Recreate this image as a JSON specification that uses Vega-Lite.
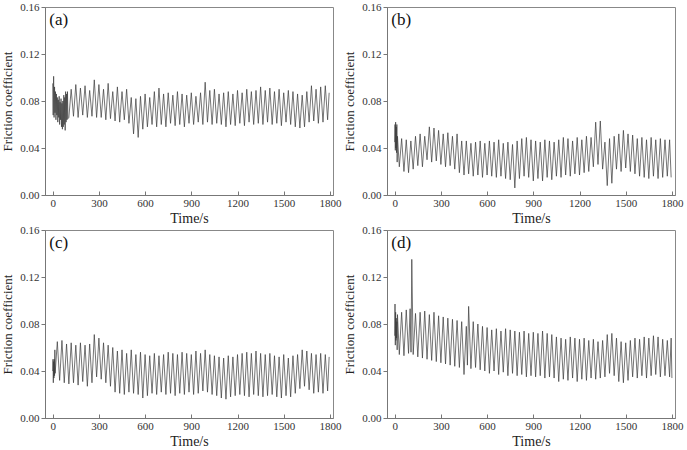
{
"$schema": "https://vega.github.io/schema/vega-lite/v6.json",
"background": "white",
"padding": {"left": 1, "top": 0, "right": 2, "bottom": 0},
"config": {
  "font": "Liberation Serif",
  "view": {"stroke": "#888", "strokeWidth": 1},
  "style": {"guide-label": {"font": "Liberation Serif", "fontWeight": 400}, "guide-title": {"font": "Liberation Serif", "fontWeight": 400}}
},
"datasets": {
"a": [
{"t":0,"f":0.095},{"t":3,"f":0.068},{"t":6,"f":0.101},{"t":9,"f":0.066},{"t":12,"f":0.092},{"t":15,"f":0.07},{"t":18,"f":0.088},{"t":21,"f":0.064},{"t":24,"f":0.086},{"t":27,"f":0.068},{"t":30,"f":0.083},{"t":33,"f":0.062},{"t":36,"f":0.081},{"t":39,"f":0.066},{"t":42,"f":0.084},{"t":45,"f":0.06},{"t":48,"f":0.079},{"t":51,"f":0.064},{"t":54,"f":0.082},{"t":57,"f":0.058},{"t":60,"f":0.078},{"t":63,"f":0.056},{"t":66,"f":0.08},{"t":69,"f":0.058},{"t":72,"f":0.085},{"t":75,"f":0.06},{"t":78,"f":0.083},{"t":81,"f":0.055},{"t":84,"f":0.088},{"t":87,"f":0.062},{"t":90,"f":0.086},{"t":93,"f":0.064},{"t":96,"f":0.088},{"t":99,"f":0.065},
{"t":105,"f":0.066},{"t":120,"f":0.09},{"t":135,"f":0.067},{"t":150,"f":0.094},{"t":165,"f":0.066},{"t":180,"f":0.091},{"t":195,"f":0.068},{"t":210,"f":0.093},{"t":225,"f":0.066},{"t":240,"f":0.089},{"t":255,"f":0.067},{"t":270,"f":0.098},{"t":285,"f":0.066},{"t":300,"f":0.094},{"t":315,"f":0.066},{"t":330,"f":0.09},{"t":345,"f":0.064},{"t":360,"f":0.095},{"t":375,"f":0.065},{"t":390,"f":0.088},{"t":405,"f":0.063},{"t":420,"f":0.092},{"t":435,"f":0.062},{"t":450,"f":0.088},{"t":465,"f":0.064},{"t":480,"f":0.09},{"t":495,"f":0.061},{"t":510,"f":0.083},{"t":525,"f":0.052},{"t":540,"f":0.082},{"t":555,"f":0.049},{"t":570,"f":0.084},{"t":585,"f":0.056},{"t":600,"f":0.086},{"t":615,"f":0.058},{"t":630,"f":0.083},{"t":645,"f":0.06},{"t":660,"f":0.088},{"t":675,"f":0.058},{"t":690,"f":0.091},{"t":705,"f":0.06},{"t":720,"f":0.086},{"t":735,"f":0.058},{"t":750,"f":0.087},{"t":765,"f":0.061},{"t":780,"f":0.085},{"t":795,"f":0.059},{"t":810,"f":0.088},{"t":825,"f":0.06},{"t":840,"f":0.086},{"t":855,"f":0.058},{"t":870,"f":0.085},{"t":885,"f":0.061},{"t":900,"f":0.087},{"t":915,"f":0.06},{"t":930,"f":0.084},{"t":945,"f":0.062},{"t":960,"f":0.087},{"t":975,"f":0.06},{"t":990,"f":0.096},{"t":1005,"f":0.062},{"t":1020,"f":0.089},{"t":1035,"f":0.06},{"t":1050,"f":0.09},{"t":1065,"f":0.061},{"t":1080,"f":0.086},{"t":1095,"f":0.06},{"t":1110,"f":0.087},{"t":1125,"f":0.058},{"t":1140,"f":0.088},{"t":1155,"f":0.06},{"t":1170,"f":0.086},{"t":1185,"f":0.059},{"t":1200,"f":0.089},{"t":1215,"f":0.061},{"t":1230,"f":0.087},{"t":1245,"f":0.059},{"t":1260,"f":0.09},{"t":1275,"f":0.062},{"t":1290,"f":0.088},{"t":1305,"f":0.06},{"t":1320,"f":0.089},{"t":1335,"f":0.061},{"t":1350,"f":0.092},{"t":1365,"f":0.06},{"t":1380,"f":0.089},{"t":1395,"f":0.062},{"t":1410,"f":0.091},{"t":1425,"f":0.06},{"t":1440,"f":0.088},{"t":1455,"f":0.061},{"t":1470,"f":0.09},{"t":1485,"f":0.059},{"t":1500,"f":0.087},{"t":1515,"f":0.062},{"t":1530,"f":0.089},{"t":1545,"f":0.06},{"t":1560,"f":0.088},{"t":1575,"f":0.058},{"t":1590,"f":0.086},{"t":1605,"f":0.057},{"t":1620,"f":0.085},{"t":1635,"f":0.058},{"t":1650,"f":0.088},{"t":1665,"f":0.062},{"t":1680,"f":0.093},{"t":1695,"f":0.063},{"t":1710,"f":0.09},{"t":1725,"f":0.061},{"t":1740,"f":0.092},{"t":1755,"f":0.062},{"t":1770,"f":0.093},{"t":1785,"f":0.064},{"t":1795,"f":0.087}
],
"b": [
{"t":0,"f":0.045},{"t":2,"f":0.06},{"t":4,"f":0.038},{"t":6,"f":0.062},{"t":8,"f":0.04},{"t":10,"f":0.058},{"t":12,"f":0.036},{"t":14,"f":0.06},{"t":16,"f":0.028},{"t":18,"f":0.05},
{"t":30,"f":0.024},{"t":45,"f":0.048},{"t":60,"f":0.02},{"t":75,"f":0.047},{"t":90,"f":0.019},{"t":105,"f":0.046},{"t":120,"f":0.022},{"t":135,"f":0.05},{"t":150,"f":0.025},{"t":165,"f":0.052},{"t":180,"f":0.024},{"t":195,"f":0.05},{"t":210,"f":0.03},{"t":225,"f":0.058},{"t":240,"f":0.028},{"t":255,"f":0.057},{"t":270,"f":0.029},{"t":285,"f":0.055},{"t":300,"f":0.026},{"t":315,"f":0.052},{"t":330,"f":0.024},{"t":345,"f":0.053},{"t":360,"f":0.025},{"t":375,"f":0.05},{"t":390,"f":0.022},{"t":405,"f":0.052},{"t":420,"f":0.019},{"t":435,"f":0.046},{"t":450,"f":0.017},{"t":465,"f":0.046},{"t":480,"f":0.018},{"t":495,"f":0.044},{"t":510,"f":0.016},{"t":525,"f":0.045},{"t":540,"f":0.017},{"t":555,"f":0.046},{"t":570,"f":0.015},{"t":585,"f":0.044},{"t":600,"f":0.017},{"t":615,"f":0.046},{"t":630,"f":0.016},{"t":645,"f":0.045},{"t":660,"f":0.015},{"t":675,"f":0.047},{"t":690,"f":0.016},{"t":705,"f":0.044},{"t":720,"f":0.014},{"t":735,"f":0.045},{"t":750,"f":0.013},{"t":765,"f":0.043},{"t":780,"f":0.006},{"t":795,"f":0.046},{"t":810,"f":0.014},{"t":825,"f":0.048},{"t":840,"f":0.016},{"t":855,"f":0.049},{"t":870,"f":0.015},{"t":885,"f":0.047},{"t":900,"f":0.012},{"t":915,"f":0.046},{"t":930,"f":0.014},{"t":945,"f":0.045},{"t":960,"f":0.012},{"t":975,"f":0.047},{"t":990,"f":0.015},{"t":1005,"f":0.046},{"t":1020,"f":0.013},{"t":1035,"f":0.045},{"t":1050,"f":0.016},{"t":1065,"f":0.047},{"t":1080,"f":0.015},{"t":1095,"f":0.049},{"t":1110,"f":0.017},{"t":1125,"f":0.048},{"t":1140,"f":0.016},{"t":1155,"f":0.046},{"t":1170,"f":0.018},{"t":1185,"f":0.049},{"t":1200,"f":0.017},{"t":1215,"f":0.047},{"t":1230,"f":0.019},{"t":1245,"f":0.05},{"t":1260,"f":0.02},{"t":1275,"f":0.049},{"t":1290,"f":0.024},{"t":1305,"f":0.062},{"t":1320,"f":0.026},{"t":1335,"f":0.063},{"t":1350,"f":0.022},{"t":1365,"f":0.045},{"t":1380,"f":0.008},{"t":1395,"f":0.048},{"t":1410,"f":0.01},{"t":1425,"f":0.05},{"t":1440,"f":0.022},{"t":1455,"f":0.052},{"t":1470,"f":0.02},{"t":1485,"f":0.055},{"t":1500,"f":0.023},{"t":1515,"f":0.052},{"t":1530,"f":0.02},{"t":1545,"f":0.051},{"t":1560,"f":0.018},{"t":1575,"f":0.048},{"t":1590,"f":0.016},{"t":1605,"f":0.049},{"t":1620,"f":0.015},{"t":1635,"f":0.047},{"t":1650,"f":0.014},{"t":1665,"f":0.049},{"t":1680,"f":0.016},{"t":1695,"f":0.047},{"t":1710,"f":0.014},{"t":1725,"f":0.048},{"t":1740,"f":0.015},{"t":1755,"f":0.047},{"t":1770,"f":0.016},{"t":1785,"f":0.047},{"t":1795,"f":0.015}
],
"c": [
{"t":0,"f":0.04},{"t":2,"f":0.05},{"t":4,"f":0.03},{"t":6,"f":0.048},{"t":8,"f":0.034},{"t":10,"f":0.05},{"t":12,"f":0.036},{"t":14,"f":0.058},{"t":16,"f":0.038},
{"t":30,"f":0.065},{"t":45,"f":0.032},{"t":60,"f":0.066},{"t":75,"f":0.03},{"t":90,"f":0.063},{"t":105,"f":0.029},{"t":120,"f":0.064},{"t":135,"f":0.03},{"t":150,"f":0.062},{"t":165,"f":0.028},{"t":180,"f":0.064},{"t":195,"f":0.031},{"t":210,"f":0.062},{"t":225,"f":0.027},{"t":240,"f":0.063},{"t":255,"f":0.03},{"t":270,"f":0.071},{"t":285,"f":0.035},{"t":300,"f":0.068},{"t":315,"f":0.033},{"t":330,"f":0.064},{"t":345,"f":0.03},{"t":360,"f":0.062},{"t":375,"f":0.027},{"t":390,"f":0.06},{"t":405,"f":0.022},{"t":420,"f":0.057},{"t":435,"f":0.021},{"t":450,"f":0.058},{"t":465,"f":0.02},{"t":480,"f":0.055},{"t":495,"f":0.022},{"t":510,"f":0.058},{"t":525,"f":0.021},{"t":540,"f":0.054},{"t":555,"f":0.02},{"t":570,"f":0.056},{"t":585,"f":0.017},{"t":600,"f":0.054},{"t":615,"f":0.019},{"t":630,"f":0.053},{"t":645,"f":0.021},{"t":660,"f":0.055},{"t":675,"f":0.02},{"t":690,"f":0.053},{"t":705,"f":0.022},{"t":720,"f":0.054},{"t":735,"f":0.02},{"t":750,"f":0.056},{"t":765,"f":0.021},{"t":780,"f":0.055},{"t":795,"f":0.019},{"t":810,"f":0.054},{"t":825,"f":0.021},{"t":840,"f":0.056},{"t":855,"f":0.02},{"t":870,"f":0.055},{"t":885,"f":0.022},{"t":900,"f":0.054},{"t":915,"f":0.02},{"t":930,"f":0.057},{"t":945,"f":0.021},{"t":960,"f":0.055},{"t":975,"f":0.023},{"t":990,"f":0.058},{"t":1005,"f":0.022},{"t":1020,"f":0.054},{"t":1035,"f":0.02},{"t":1050,"f":0.053},{"t":1065,"f":0.019},{"t":1080,"f":0.052},{"t":1095,"f":0.017},{"t":1110,"f":0.051},{"t":1125,"f":0.016},{"t":1140,"f":0.053},{"t":1155,"f":0.018},{"t":1170,"f":0.052},{"t":1185,"f":0.019},{"t":1200,"f":0.054},{"t":1215,"f":0.02},{"t":1230,"f":0.055},{"t":1245,"f":0.019},{"t":1260,"f":0.056},{"t":1275,"f":0.018},{"t":1290,"f":0.055},{"t":1305,"f":0.02},{"t":1320,"f":0.057},{"t":1335,"f":0.019},{"t":1350,"f":0.055},{"t":1365,"f":0.018},{"t":1380,"f":0.054},{"t":1395,"f":0.019},{"t":1410,"f":0.055},{"t":1425,"f":0.02},{"t":1440,"f":0.053},{"t":1455,"f":0.018},{"t":1470,"f":0.052},{"t":1485,"f":0.017},{"t":1500,"f":0.054},{"t":1515,"f":0.019},{"t":1530,"f":0.051},{"t":1545,"f":0.018},{"t":1560,"f":0.053},{"t":1575,"f":0.021},{"t":1590,"f":0.054},{"t":1605,"f":0.025},{"t":1620,"f":0.058},{"t":1635,"f":0.027},{"t":1650,"f":0.057},{"t":1665,"f":0.024},{"t":1680,"f":0.055},{"t":1695,"f":0.021},{"t":1710,"f":0.054},{"t":1725,"f":0.022},{"t":1740,"f":0.055},{"t":1755,"f":0.021},{"t":1770,"f":0.054},{"t":1785,"f":0.023},{"t":1795,"f":0.052}
],
"d": [
{"t":0,"f":0.07},{"t":2,"f":0.097},{"t":4,"f":0.062},{"t":6,"f":0.09},{"t":8,"f":0.066},{"t":10,"f":0.085},{"t":12,"f":0.068},{"t":14,"f":0.082},{"t":16,"f":0.058},{"t":18,"f":0.088},
{"t":30,"f":0.054},{"t":45,"f":0.09},{"t":60,"f":0.053},{"t":75,"f":0.092},{"t":90,"f":0.055},{"t":100,"f":0.093},{"t":106,"f":0.056},{"t":111,"f":0.135},{"t":120,"f":0.054},{"t":135,"f":0.089},{"t":150,"f":0.052},{"t":165,"f":0.09},{"t":180,"f":0.051},{"t":195,"f":0.091},{"t":210,"f":0.05},{"t":225,"f":0.088},{"t":240,"f":0.049},{"t":255,"f":0.09},{"t":270,"f":0.048},{"t":285,"f":0.087},{"t":300,"f":0.047},{"t":315,"f":0.086},{"t":330,"f":0.046},{"t":345,"f":0.085},{"t":360,"f":0.045},{"t":375,"f":0.084},{"t":390,"f":0.044},{"t":405,"f":0.083},{"t":420,"f":0.043},{"t":435,"f":0.082},{"t":450,"f":0.037},{"t":465,"f":0.078},{"t":472,"f":0.045},{"t":480,"f":0.095},{"t":495,"f":0.042},{"t":510,"f":0.082},{"t":525,"f":0.043},{"t":540,"f":0.08},{"t":555,"f":0.041},{"t":570,"f":0.078},{"t":585,"f":0.04},{"t":600,"f":0.077},{"t":615,"f":0.038},{"t":630,"f":0.075},{"t":645,"f":0.04},{"t":660,"f":0.076},{"t":675,"f":0.037},{"t":690,"f":0.074},{"t":705,"f":0.039},{"t":720,"f":0.076},{"t":735,"f":0.036},{"t":750,"f":0.075},{"t":765,"f":0.038},{"t":780,"f":0.074},{"t":795,"f":0.036},{"t":810,"f":0.073},{"t":825,"f":0.037},{"t":840,"f":0.074},{"t":855,"f":0.035},{"t":870,"f":0.072},{"t":885,"f":0.036},{"t":900,"f":0.073},{"t":915,"f":0.035},{"t":930,"f":0.072},{"t":945,"f":0.036},{"t":960,"f":0.074},{"t":975,"f":0.034},{"t":990,"f":0.072},{"t":1005,"f":0.035},{"t":1020,"f":0.071},{"t":1035,"f":0.034},{"t":1050,"f":0.069},{"t":1065,"f":0.031},{"t":1080,"f":0.068},{"t":1095,"f":0.033},{"t":1110,"f":0.067},{"t":1125,"f":0.032},{"t":1140,"f":0.069},{"t":1155,"f":0.034},{"t":1170,"f":0.068},{"t":1185,"f":0.031},{"t":1200,"f":0.067},{"t":1215,"f":0.033},{"t":1230,"f":0.068},{"t":1245,"f":0.032},{"t":1260,"f":0.066},{"t":1275,"f":0.034},{"t":1290,"f":0.067},{"t":1305,"f":0.033},{"t":1320,"f":0.065},{"t":1335,"f":0.034},{"t":1350,"f":0.066},{"t":1365,"f":0.035},{"t":1380,"f":0.071},{"t":1395,"f":0.038},{"t":1410,"f":0.072},{"t":1425,"f":0.036},{"t":1440,"f":0.068},{"t":1455,"f":0.031},{"t":1470,"f":0.065},{"t":1485,"f":0.03},{"t":1500,"f":0.064},{"t":1515,"f":0.032},{"t":1530,"f":0.066},{"t":1545,"f":0.035},{"t":1560,"f":0.068},{"t":1575,"f":0.034},{"t":1590,"f":0.067},{"t":1605,"f":0.036},{"t":1620,"f":0.069},{"t":1635,"f":0.034},{"t":1650,"f":0.068},{"t":1665,"f":0.036},{"t":1680,"f":0.07},{"t":1695,"f":0.037},{"t":1710,"f":0.069},{"t":1725,"f":0.035},{"t":1740,"f":0.067},{"t":1755,"f":0.036},{"t":1770,"f":0.066},{"t":1785,"f":0.035},{"t":1795,"f":0.068},{"t":1800,"f":0.034}
]
},
"vconcat": [
  {"hconcat": [
    {"width": 288, "height": 188, "layer": [
      {"data": {"name": "a"}, "mark": {"type": "line", "stroke": "#3a3a3a", "strokeWidth": 0.7}, "encoding": {
        "x": {"field": "t", "type": "quantitative", "scale": {"domain": [-50, 1820], "nice": false}, "axis": {"title": "Time/s", "grid": false, "labelFont": "Liberation Serif", "labelFontSize": 11, "labelColor": "#333", "titleFont": "Liberation Serif", "titleFontSize": 14, "titleFontWeight": 400, "titleColor": "#222", "domainColor": "#777", "tickColor": "#777", "labelOverlap": false, "values": [0,150,300,450,600,750,900,1050,1200,1350,1500,1650,1800], "labelExpr": "datum.value % 300 == 0 ? datum.value : ''", "tickSize": -4, "labelPadding": 6, "titlePadding": 3, "labelFlush": false}},
        "y": {"field": "f", "type": "quantitative", "scale": {"domain": [0, 0.16], "nice": false}, "axis": {"title": "Friction coefficient", "grid": false, "labelFont": "Liberation Serif", "labelFontSize": 11, "labelColor": "#333", "titleFont": "Liberation Serif", "titleFontSize": 13, "titleFontWeight": 400, "titleColor": "#222", "domainColor": "#777", "tickColor": "#777", "labelOverlap": false, "values": [0,0.02,0.04,0.06,0.08,0.1,0.12,0.14,0.16], "labelExpr": "round(datum.value*100) % 4 == 0 ? format(datum.value, '.2f') : ''", "tickSize": 4, "labelPadding": 2, "titlePadding": 5, "labelFlush": false}}}},
      {"data": {"values": [{"lab": "(a)"}]}, "mark": {"type": "text", "align": "left", "baseline": "alphabetic", "fontSize": 17, "font": "Liberation Serif", "color": "#111"}, "encoding": {"x": {"datum": -22}, "y": {"datum": 0.1445}, "text": {"field": "lab"}}}
    ]},
    {"width": 288, "height": 188, "layer": [
      {"data": {"name": "b"}, "mark": {"type": "line", "stroke": "#3a3a3a", "strokeWidth": 0.7}, "encoding": {
        "x": {"field": "t", "type": "quantitative", "scale": {"domain": [-50, 1820], "nice": false}, "axis": {"title": "Time/s", "grid": false, "labelFont": "Liberation Serif", "labelFontSize": 11, "labelColor": "#333", "titleFont": "Liberation Serif", "titleFontSize": 14, "titleFontWeight": 400, "titleColor": "#222", "domainColor": "#777", "tickColor": "#777", "labelOverlap": false, "values": [0,150,300,450,600,750,900,1050,1200,1350,1500,1650,1800], "labelExpr": "datum.value % 300 == 0 ? datum.value : ''", "tickSize": -4, "labelPadding": 6, "titlePadding": 3, "labelFlush": false}},
        "y": {"field": "f", "type": "quantitative", "scale": {"domain": [0, 0.16], "nice": false}, "axis": {"title": "Friction coefficient", "grid": false, "labelFont": "Liberation Serif", "labelFontSize": 11, "labelColor": "#333", "titleFont": "Liberation Serif", "titleFontSize": 13, "titleFontWeight": 400, "titleColor": "#222", "domainColor": "#777", "tickColor": "#777", "labelOverlap": false, "values": [0,0.02,0.04,0.06,0.08,0.1,0.12,0.14,0.16], "labelExpr": "round(datum.value*100) % 4 == 0 ? format(datum.value, '.2f') : ''", "tickSize": 4, "labelPadding": 2, "titlePadding": 5, "labelFlush": false}}}},
      {"data": {"values": [{"lab": "(b)"}]}, "mark": {"type": "text", "align": "left", "baseline": "alphabetic", "fontSize": 17, "font": "Liberation Serif", "color": "#111"}, "encoding": {"x": {"datum": -22}, "y": {"datum": 0.1445}, "text": {"field": "lab"}}}
    ]}
  ], "spacing": 1},
  {"hconcat": [
    {"width": 288, "height": 188, "layer": [
      {"data": {"name": "c"}, "mark": {"type": "line", "stroke": "#3a3a3a", "strokeWidth": 0.7}, "encoding": {
        "x": {"field": "t", "type": "quantitative", "scale": {"domain": [-50, 1820], "nice": false}, "axis": {"title": "Time/s", "grid": false, "labelFont": "Liberation Serif", "labelFontSize": 11, "labelColor": "#333", "titleFont": "Liberation Serif", "titleFontSize": 14, "titleFontWeight": 400, "titleColor": "#222", "domainColor": "#777", "tickColor": "#777", "labelOverlap": false, "values": [0,150,300,450,600,750,900,1050,1200,1350,1500,1650,1800], "labelExpr": "datum.value % 300 == 0 ? datum.value : ''", "tickSize": -4, "labelPadding": 6, "titlePadding": 3, "labelFlush": false}},
        "y": {"field": "f", "type": "quantitative", "scale": {"domain": [0, 0.16], "nice": false}, "axis": {"title": "Friction coefficient", "grid": false, "labelFont": "Liberation Serif", "labelFontSize": 11, "labelColor": "#333", "titleFont": "Liberation Serif", "titleFontSize": 13, "titleFontWeight": 400, "titleColor": "#222", "domainColor": "#777", "tickColor": "#777", "labelOverlap": false, "values": [0,0.02,0.04,0.06,0.08,0.1,0.12,0.14,0.16], "labelExpr": "round(datum.value*100) % 4 == 0 ? format(datum.value, '.2f') : ''", "tickSize": 4, "labelPadding": 2, "titlePadding": 5, "labelFlush": false}}}},
      {"data": {"values": [{"lab": "(c)"}]}, "mark": {"type": "text", "align": "left", "baseline": "alphabetic", "fontSize": 17, "font": "Liberation Serif", "color": "#111"}, "encoding": {"x": {"datum": -22}, "y": {"datum": 0.1445}, "text": {"field": "lab"}}}
    ]},
    {"width": 288, "height": 188, "layer": [
      {"data": {"name": "d"}, "mark": {"type": "line", "stroke": "#3a3a3a", "strokeWidth": 0.7}, "encoding": {
        "x": {"field": "t", "type": "quantitative", "scale": {"domain": [-50, 1820], "nice": false}, "axis": {"title": "Time/s", "grid": false, "labelFont": "Liberation Serif", "labelFontSize": 11, "labelColor": "#333", "titleFont": "Liberation Serif", "titleFontSize": 14, "titleFontWeight": 400, "titleColor": "#222", "domainColor": "#777", "tickColor": "#777", "labelOverlap": false, "values": [0,150,300,450,600,750,900,1050,1200,1350,1500,1650,1800], "labelExpr": "datum.value % 300 == 0 ? datum.value : ''", "tickSize": -4, "labelPadding": 6, "titlePadding": 3, "labelFlush": false}},
        "y": {"field": "f", "type": "quantitative", "scale": {"domain": [0, 0.16], "nice": false}, "axis": {"title": "Friction coefficient", "grid": false, "labelFont": "Liberation Serif", "labelFontSize": 11, "labelColor": "#333", "titleFont": "Liberation Serif", "titleFontSize": 13, "titleFontWeight": 400, "titleColor": "#222", "domainColor": "#777", "tickColor": "#777", "labelOverlap": false, "values": [0,0.02,0.04,0.06,0.08,0.1,0.12,0.14,0.16], "labelExpr": "round(datum.value*100) % 4 == 0 ? format(datum.value, '.2f') : ''", "tickSize": 4, "labelPadding": 2, "titlePadding": 5, "labelFlush": false}}}},
      {"data": {"values": [{"lab": "(d)"}]}, "mark": {"type": "text", "align": "left", "baseline": "alphabetic", "fontSize": 17, "font": "Liberation Serif", "color": "#111"}, "encoding": {"x": {"datum": -22}, "y": {"datum": 0.1445}, "text": {"field": "lab"}}}
    ]}
  ], "spacing": 1}
],
"spacing": -3
}
